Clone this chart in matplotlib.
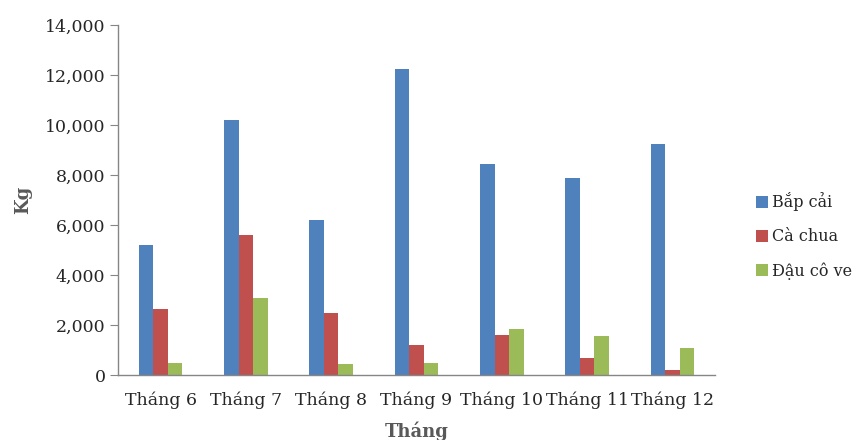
import numpy as np
import matplotlib.pyplot as plt
from matplotlib.ticker import FuncFormatter

# --- DATA (kg per month) ---
months = ["Tháng 6", "Tháng 7", "Tháng 8", "Tháng 9", "Tháng 10", "Tháng 11", "Tháng 12"]
bap_cai = [5200, 10200, 6200, 12250, 8450, 7870, 9250]
ca_chua = [2650, 5600, 2500, 1200, 1620, 700, 200]
dau_co_ve = [500, 3100, 430, 500, 1830, 1550, 1100]
series_names = ["Bắp cải", "Cà chua", "Đậu cô ve"]
y_ticks = [0, 2000, 4000, 6000, 8000, 10000, 12000, 14000]

COLORS = ["#4F81BD", "#C0504D", "#9BBB59"]
BAR_W = 0.17

plt.rcParams['font.family'] = ['DejaVu Serif']

fig = plt.figure(figsize=(8.52, 4.4), dpi=100)
ax = fig.add_axes([118 / 852, 65 / 440, 597 / 852, 350 / 440])

x = np.arange(len(months))
for i, (vals, name) in enumerate(zip([bap_cai, ca_chua, dau_co_ve], series_names)):
    ax.bar(x + (i - 1) * BAR_W, vals, width=BAR_W, color=COLORS[i], label=name)

ax.set_xlim(-0.5, len(months) - 0.5)
ax.set_ylim(0, 14000)
ax.set_yticks(y_ticks)
ax.yaxis.set_major_formatter(FuncFormatter(lambda v, p: f"{int(v):,}"))
ax.set_xticks(x)
ax.set_xticklabels(months)

for s in ["top", "right"]:
    ax.spines[s].set_visible(False)
for s in ["left", "bottom"]:
    ax.spines[s].set_color("#868686")
    ax.spines[s].set_linewidth(1.0)
ax.tick_params(axis="y", length=6, color="#868686", labelsize=12.5, labelcolor="#262626", pad=3)
ax.tick_params(axis="x", length=0, labelsize=12.5, labelcolor="#262626", pad=12)

ax.set_ylabel("Kg", fontsize=13, fontweight="bold", color="#595959", labelpad=9)
ax.set_xlabel("Tháng", fontsize=13, fontweight="bold", color="#595959", labelpad=9)

# legend sits to the right of the plot, vertically around y=236px
ax.legend(loc="center left", bbox_to_anchor=(748 / 852, 1 - 236 / 440), bbox_transform=fig.transFigure,
          frameon=False, fontsize=11.5, handlelength=0.75, handleheight=0.75,
          handletextpad=0.25, labelspacing=1.05, labelcolor="#262626", borderpad=0)

fig.savefig("out.png", dpi=100)
